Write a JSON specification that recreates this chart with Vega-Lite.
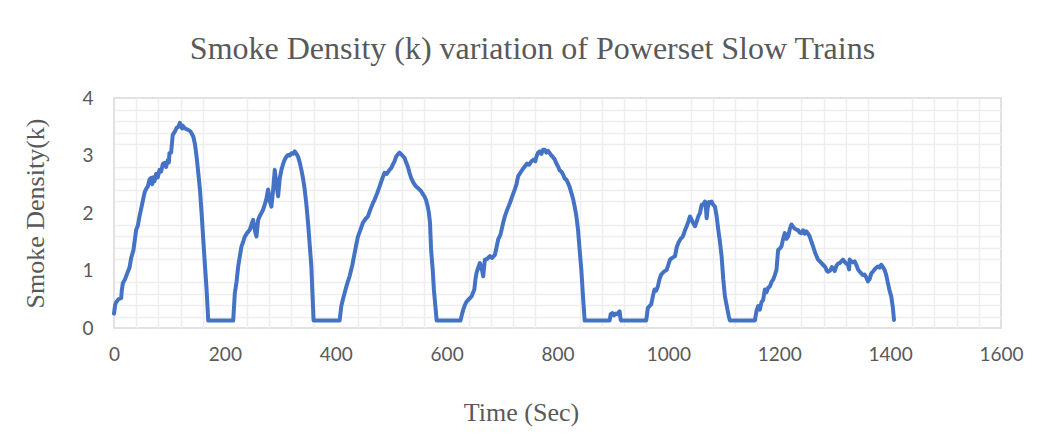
{
  "$schema": "https://vega.github.io/schema/vega-lite/v6.json",
  "autosize": "none",
  "width": 887,
  "height": 230,
  "padding": {"left": 114, "top": 98, "right": 48, "bottom": 113},
  "background": "white",
  "title": {
    "text": "Smoke Density (k) variation of Powerset Slow Trains",
    "font": "Liberation Serif",
    "fontSize": 32,
    "fontWeight": "normal",
    "color": "#595959",
    "anchor": "middle",
    "frame": "group",
    "dx": -25,
    "offset": 23
  },
  "config": {
    "view": {"stroke": "#d9d9d9", "strokeWidth": 1.5},
    "axis": {"domain": false, "ticks": false}
  },
  "data": {"values": [
    {"t":0,"k":0.25},{"t":2,"k":0.40},{"t":4,"k":0.45},{"t":8,"k":0.50},{"t":13,"k":0.52},{"t":14,"k":0.65},{"t":16,"k":0.78},{"t":20,"k":0.85},{"t":25,"k":0.98},{"t":28,"k":1.05},{"t":31,"k":1.22},{"t":35,"k":1.35},{"t":40,"k":1.71},{"t":43,"k":1.78},{"t":46,"k":1.94},{"t":50,"k":2.12},{"t":55,"k":2.35},{"t":58,"k":2.42},{"t":61,"k":2.46},{"t":64,"k":2.58},{"t":67,"k":2.61},{"t":69,"k":2.50},{"t":71,"k":2.62},{"t":73,"k":2.55},{"t":76,"k":2.68},{"t":79,"k":2.62},{"t":82,"k":2.75},{"t":85,"k":2.72},{"t":88,"k":2.85},{"t":91,"k":2.87},{"t":94,"k":2.80},{"t":97,"k":2.92},{"t":99,"k":2.88},{"t":100,"k":3.04},{"t":103,"k":3.05},{"t":106,"k":3.36},{"t":110,"k":3.42},{"t":113,"k":3.48},{"t":116,"k":3.50},{"t":119,"k":3.57},{"t":121,"k":3.50},{"t":123,"k":3.47},{"t":124,"k":3.52},{"t":128,"k":3.47},{"t":133,"k":3.45},{"t":138,"k":3.42},{"t":143,"k":3.33},{"t":146,"k":3.20},{"t":149,"k":2.98},{"t":152,"k":2.70},{"t":155,"k":2.41},{"t":158,"k":2.00},{"t":161,"k":1.54},{"t":164,"k":1.10},{"t":167,"k":0.67},{"t":170,"k":0.13},
    {"t":215,"k":0.13},{"t":218,"k":0.61},{"t":221,"k":0.80},{"t":224,"k":1.07},{"t":227,"k":1.25},{"t":230,"k":1.42},{"t":233,"k":1.50},{"t":236,"k":1.59},{"t":240,"k":1.65},{"t":245,"k":1.71},{"t":248,"k":1.80},{"t":251,"k":1.88},{"t":254,"k":1.70},{"t":257,"k":1.59},{"t":260,"k":1.88},{"t":263,"k":1.95},{"t":266,"k":2.00},{"t":269,"k":2.06},{"t":272,"k":2.15},{"t":275,"k":2.25},{"t":278,"k":2.41},{"t":281,"k":2.20},{"t":284,"k":2.11},{"t":287,"k":2.40},{"t":290,"k":2.75},{"t":293,"k":2.50},{"t":296,"k":2.29},{"t":299,"k":2.60},{"t":302,"k":2.75},{"t":305,"k":2.85},{"t":308,"k":2.93},{"t":311,"k":2.98},{"t":314,"k":3.01},{"t":317,"k":3.00},{"t":320,"k":3.04},{"t":323,"k":3.03},{"t":326,"k":3.07},{"t":329,"k":3.03},{"t":332,"k":2.98},{"t":335,"k":2.88},{"t":338,"k":2.75},{"t":341,"k":2.60},{"t":344,"k":2.41},{"t":347,"k":2.15},{"t":350,"k":1.83},{"t":353,"k":1.45},{"t":356,"k":1.07},{"t":358,"k":0.60},{"t":360,"k":0.13},
    {"t":407,"k":0.13},{"t":410,"k":0.38},{"t":413,"k":0.50},{"t":416,"k":0.61},{"t":420,"k":0.75},{"t":425,"k":0.90},{"t":430,"k":1.10},{"t":434,"k":1.30},{"t":437,"k":1.45},{"t":440,"k":1.59},{"t":445,"k":1.72},{"t":449,"k":1.83},{"t":454,"k":1.90},{"t":458,"k":1.94},{"t":462,"k":2.05},{"t":467,"k":2.17},{"t":470,"k":2.23},{"t":475,"k":2.35},{"t":479,"k":2.46},{"t":484,"k":2.60},{"t":488,"k":2.70},{"t":492,"k":2.68},{"t":497,"k":2.75},{"t":500,"k":2.78},{"t":503,"k":2.84},{"t":506,"k":2.90},{"t":509,"k":2.98},{"t":512,"k":3.02},{"t":515,"k":3.05},{"t":519,"k":3.01},{"t":524,"k":2.96},{"t":527,"k":2.88},{"t":530,"k":2.81},{"t":533,"k":2.70},{"t":536,"k":2.61},{"t":540,"k":2.53},{"t":545,"k":2.46},{"t":550,"k":2.42},{"t":554,"k":2.38},{"t":557,"k":2.33},{"t":560,"k":2.29},{"t":563,"k":2.22},{"t":566,"k":2.11},{"t":568,"k":2.00},{"t":570,"k":1.83},{"t":572,"k":1.36},{"t":575,"k":1.00},{"t":577,"k":0.67},{"t":580,"k":0.35},{"t":582,"k":0.13},
    {"t":625,"k":0.13},{"t":628,"k":0.25},{"t":630,"k":0.32},{"t":633,"k":0.40},{"t":636,"k":0.46},{"t":640,"k":0.50},{"t":645,"k":0.55},{"t":648,"k":0.62},{"t":650,"k":0.67},{"t":652,"k":0.85},{"t":654,"k":0.96},{"t":657,"k":1.05},{"t":660,"k":1.13},{"t":663,"k":1.05},{"t":666,"k":0.90},{"t":669,"k":1.19},{"t":673,"k":1.20},{"t":678,"k":1.25},{"t":682,"k":1.22},{"t":687,"k":1.27},{"t":690,"k":1.40},{"t":693,"k":1.54},{"t":697,"k":1.62},{"t":702,"k":1.83},{"t":705,"k":1.94},{"t":709,"k":2.05},{"t":714,"k":2.17},{"t":718,"k":2.28},{"t":723,"k":2.41},{"t":726,"k":2.50},{"t":729,"k":2.64},{"t":733,"k":2.70},{"t":737,"k":2.76},{"t":741,"k":2.81},{"t":745,"k":2.86},{"t":749,"k":2.84},{"t":753,"k":2.90},{"t":757,"k":2.93},{"t":760,"k":2.90},{"t":762,"k":2.98},{"t":765,"k":3.05},{"t":768,"k":3.07},{"t":771,"k":3.03},{"t":774,"k":3.10},{"t":777,"k":3.10},{"t":780,"k":3.05},{"t":783,"k":3.08},{"t":786,"k":3.04},{"t":789,"k":3.00},{"t":792,"k":2.97},{"t":795,"k":2.93},{"t":798,"k":2.86},{"t":801,"k":2.81},{"t":804,"k":2.74},{"t":807,"k":2.72},{"t":810,"k":2.67},{"t":813,"k":2.60},{"t":816,"k":2.58},{"t":819,"k":2.52},{"t":822,"k":2.45},{"t":825,"k":2.35},{"t":828,"k":2.25},{"t":831,"k":2.11},{"t":834,"k":1.95},{"t":837,"k":1.71},{"t":840,"k":1.35},{"t":843,"k":1.01},{"t":846,"k":0.55},{"t":849,"k":0.13},
    {"t":894,"k":0.13},{"t":896,"k":0.24},{"t":899,"k":0.26},{"t":902,"k":0.22},{"t":905,"k":0.25},{"t":908,"k":0.24},{"t":912,"k":0.29},{"t":914,"k":0.14},{"t":915,"k":0.13},
    {"t":960,"k":0.13},{"t":963,"k":0.35},{"t":966,"k":0.38},{"t":969,"k":0.41},{"t":972,"k":0.55},{"t":975,"k":0.67},{"t":978,"k":0.65},{"t":981,"k":0.72},{"t":984,"k":0.85},{"t":987,"k":0.93},{"t":992,"k":0.98},{"t":997,"k":1.01},{"t":1000,"k":1.10},{"t":1003,"k":1.19},{"t":1007,"k":1.22},{"t":1012,"k":1.25},{"t":1015,"k":1.40},{"t":1018,"k":1.48},{"t":1022,"k":1.55},{"t":1026,"k":1.59},{"t":1030,"k":1.70},{"t":1033,"k":1.77},{"t":1036,"k":1.85},{"t":1039,"k":1.94},{"t":1042,"k":1.88},{"t":1045,"k":1.82},{"t":1048,"k":1.77},{"t":1051,"k":1.85},{"t":1054,"k":1.94},{"t":1057,"k":2.00},{"t":1060,"k":2.14},{"t":1063,"k":2.15},{"t":1066,"k":2.20},{"t":1068,"k":2.05},{"t":1069,"k":1.91},{"t":1071,"k":2.10},{"t":1073,"k":2.19},{"t":1075,"k":2.17},{"t":1078,"k":2.20},{"t":1081,"k":2.14},{"t":1084,"k":2.11},{"t":1087,"k":1.95},{"t":1090,"k":1.71},{"t":1093,"k":1.50},{"t":1096,"k":1.25},{"t":1099,"k":0.85},{"t":1102,"k":0.55},{"t":1106,"k":0.35},{"t":1109,"k":0.20},{"t":1111,"k":0.13},
    {"t":1156,"k":0.13},{"t":1159,"k":0.30},{"t":1162,"k":0.38},{"t":1165,"k":0.32},{"t":1168,"k":0.45},{"t":1171,"k":0.49},{"t":1174,"k":0.67},{"t":1177,"k":0.62},{"t":1180,"k":0.70},{"t":1183,"k":0.72},{"t":1186,"k":0.80},{"t":1189,"k":0.84},{"t":1192,"k":0.92},{"t":1195,"k":1.01},{"t":1197,"k":1.25},{"t":1198,"k":1.36},{"t":1201,"k":1.38},{"t":1204,"k":1.42},{"t":1207,"k":1.55},{"t":1210,"k":1.65},{"t":1213,"k":1.55},{"t":1216,"k":1.59},{"t":1219,"k":1.72},{"t":1222,"k":1.80},{"t":1225,"k":1.76},{"t":1228,"k":1.73},{"t":1231,"k":1.71},{"t":1234,"k":1.70},{"t":1237,"k":1.66},{"t":1240,"k":1.65},{"t":1243,"k":1.70},{"t":1246,"k":1.64},{"t":1249,"k":1.68},{"t":1252,"k":1.64},{"t":1255,"k":1.59},{"t":1258,"k":1.50},{"t":1261,"k":1.42},{"t":1265,"k":1.30},{"t":1270,"k":1.19},{"t":1275,"k":1.14},{"t":1279,"k":1.10},{"t":1283,"k":1.06},{"t":1286,"k":0.99},{"t":1288,"k":0.98},{"t":1292,"k":1.00},{"t":1295,"k":1.06},{"t":1297,"k":1.04},{"t":1300,"k":0.99},{"t":1303,"k":1.08},{"t":1306,"k":1.12},{"t":1309,"k":1.13},{"t":1312,"k":1.16},{"t":1315,"k":1.19},{"t":1318,"k":1.15},{"t":1321,"k":1.12},{"t":1324,"k":1.10},{"t":1326,"k":1.02},{"t":1327,"k":1.19},{"t":1330,"k":1.16},{"t":1333,"k":1.14},{"t":1336,"k":1.16},{"t":1339,"k":1.10},{"t":1342,"k":1.02},{"t":1345,"k":0.98},{"t":1348,"k":0.95},{"t":1351,"k":0.92},{"t":1354,"k":0.93},{"t":1357,"k":0.88},{"t":1360,"k":0.81},{"t":1363,"k":0.85},{"t":1366,"k":0.95},{"t":1369,"k":0.98},{"t":1372,"k":1.02},{"t":1375,"k":1.05},{"t":1378,"k":1.07},{"t":1381,"k":1.05},{"t":1384,"k":1.10},{"t":1387,"k":1.06},{"t":1390,"k":1.01},{"t":1393,"k":0.92},{"t":1396,"k":0.78},{"t":1399,"k":0.65},{"t":1402,"k":0.55},{"t":1405,"k":0.35},{"t":1407,"k":0.14}
  ]},
  "layer": [
    {
      "mark": {"type": "line", "opacity": 0},
      "encoding": {
        "x": {
          "field": "t", "type": "quantitative",
          "scale": {"domain": [0, 1600], "nice": false, "zero": false},
          "axis": {
            "title": null, "labels": false, "orient": "bottom",
            "values": [40,80,120,160,240,280,320,360,440,480,520,560,640,680,720,760,840,880,920,960,1040,1080,1120,1160,1240,1280,1320,1360,1440,1480,1520,1560],
            "gridColor": "#eeeeee", "gridWidth": 1.5
          }
        },
        "y": {
          "field": "k", "type": "quantitative",
          "scale": {"domain": [0, 4], "nice": false},
          "axis": {
            "title": null, "labels": false, "orient": "left",
            "values": [0.2,0.4,0.6,0.8,1.2,1.4,1.6,1.8,2.2,2.4,2.6,2.8,3.2,3.4,3.6,3.8],
            "gridColor": "#eeeeee", "gridWidth": 1.5
          }
        }
      }
    },
    {
      "mark": {"type": "line", "color": "#4472C4", "strokeWidth": 4, "strokeJoin": "round", "strokeCap": "round"},
      "encoding": {
        "x": {
          "field": "t", "type": "quantitative",
          "axis": {
            "title": "Time (Sec)", "orient": "bottom",
            "titleFont": "Liberation Serif", "titleFontSize": 26, "titleFontWeight": "normal", "titleColor": "#595959",
            "titlePadding": 35, "titleX": 407,
            "values": [0,200,400,600,800,1000,1200,1400,1600],
            "format": "d",
            "labelFont": "Lato", "labelFontSize": 19, "labelColor": "#595959", "labelPadding": 17,
            "labelFlush": false, "labelOverlap": false,
            "gridColor": "#d0d0d0", "gridWidth": 1.5
          }
        },
        "y": {
          "field": "k", "type": "quantitative",
          "axis": {
            "title": "Smoke Density(k)", "orient": "left",
            "titleFont": "Liberation Serif", "titleFontSize": 26, "titleFontWeight": "normal", "titleColor": "#595959",
            "titlePadding": 33,
            "values": [0,1,2,3,4],
            "format": "d",
            "labelFont": "Lato", "labelFontSize": 19, "labelColor": "#595959", "labelPadding": 21,
            "labelOverlap": false, "labelFlush": false,
            "gridColor": "#d0d0d0", "gridWidth": 1.5
          }
        }
      }
    }
  ],
  "resolve": {"axis": {"x": "independent", "y": "independent"}}
}
